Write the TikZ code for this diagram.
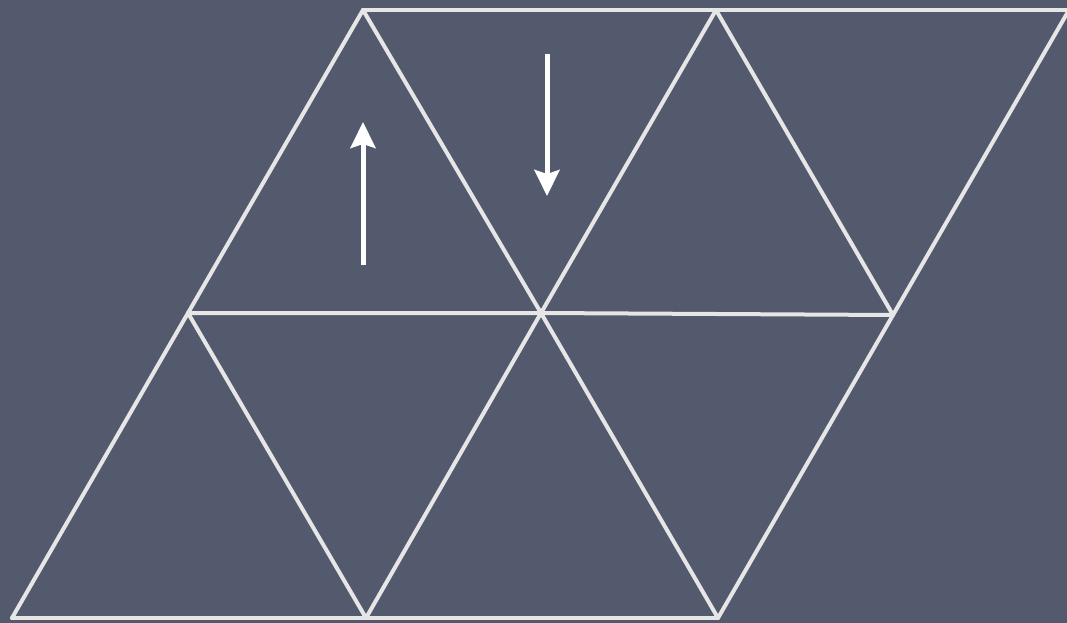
\documentclass[tikz,border=0pt]{standalone}
\usetikzlibrary{arrows.meta}
\definecolor{board}{HTML}{535A6D}
\definecolor{chalk}{HTML}{E6E6E6}
\tikzset{
  gridline/.style={draw=chalk, line width=4pt, line cap=round, line join=round},
  motion/.style={draw=white, line width=5pt, -{Stealth[length=26pt,width=25pt,inset=4pt]}}
}
\begin{document}
\begin{tikzpicture}[x=1pt,y=-1pt]
\fill[board] (0,0) rectangle (1067,623);
\useasboundingbox (0,0) rectangle (1067,623);
% vertices
\coordinate (t1) at (363,10);
\coordinate (t2) at (716,10);
\coordinate (t3) at (1069,10);
\coordinate (t4) at (1080,10);
\coordinate (m1) at (188,313);
\coordinate (m2) at (541,313);
\coordinate (m3) at (893,315);
\coordinate (b1) at (12,618);
\coordinate (b2) at (366,618);
\coordinate (b3) at (718,618);
% horizontals
\draw[gridline] (t1) -- (t2) -- (t4);
\draw[gridline] (m1) -- (m2) -- (m3);
\draw[gridline] (b1) -- (b2) -- (b3);
% diagonals
\draw[gridline] (t1) -- (m1) -- (b1);
\draw[gridline] (t1) -- (m2) -- (b3);
\draw[gridline] (t2) -- (m2) -- (b2);
\draw[gridline] (t2) -- (m3);
\draw[gridline] (t3) -- (m3) -- (b3);
\draw[gridline] (m1) -- (b2);
% arrows
\coordinate (u0) at (363,265);
\coordinate (u1) at (363,122);
\coordinate (d0) at (547,54);
\coordinate (d1) at (547,196);
\draw[motion] (u0) -- (u1);
\draw[motion] (d0) -- (d1);
\end{tikzpicture}
\end{document}
